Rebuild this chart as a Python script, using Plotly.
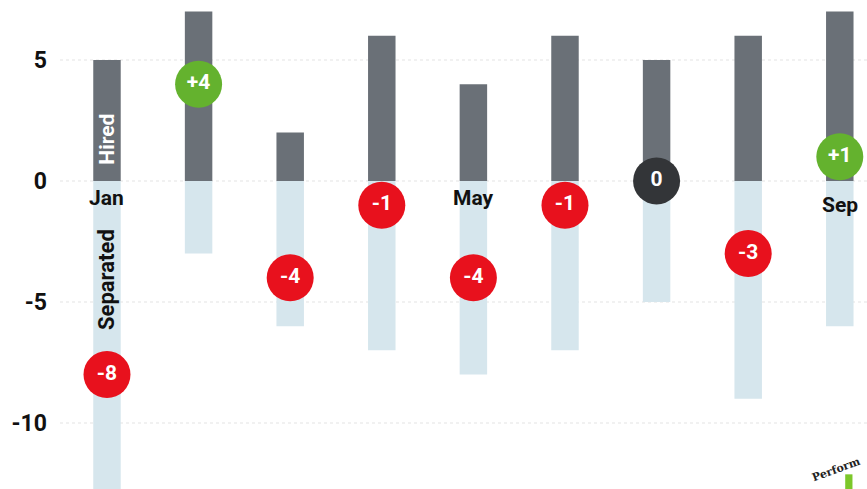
import plotly.graph_objects as go

months = ["Jan", "Feb", "Mar", "Apr", "May", "Jun", "Jul", "Aug", "Sep"]
hired = [5, 7, 2, 6, 4, 6, 5, 6, 7]
separated = [13, 3, 6, 7, 8, 7, 5, 9, 6]
shown_months = ["Jan", "May", "Sep"]
tick_vals = [5, 0, -5, -10]
tick_text = ["5", "0", "-5", "-10"]

net = [h - s for h, s in zip(hired, separated)]
net_text = [("+%d" % n) if n > 0 else str(n) for n in net]
net_color = ["#64b22e" if n > 0 else ("#e8111d" if n < 0 else "#333538") for n in net]

FONT = "Liberation Sans Narrow, Arial Narrow, Roboto, sans-serif"
x = list(range(len(months)))

fig = go.Figure()
fig.add_trace(go.Bar(x=x, y=hired, base=0, width=0.3,
                     marker=dict(color="#6a7077", line=dict(width=0)), showlegend=False))
fig.add_trace(go.Bar(x=x, y=[-s for s in separated], base=0, width=0.3,
                     marker=dict(color="#d6e6ed", line=dict(width=0)), showlegend=False))
fig.add_trace(go.Scatter(x=x, y=net, mode="markers+text", text=net_text,
                         textposition="middle center",
                         textfont=dict(family=FONT, size=21, color="white", weight="bold"),
                         marker=dict(size=47, color=net_color, line=dict(width=0)),
                         showlegend=False, cliponaxis=False))

for m in shown_months:
    i = months.index(m)
    yoff = -1.0 if 0 < net[i] < 2 else -0.7
    fig.add_annotation(x=i, y=yoff, text="<b>%s</b>" % m, showarrow=False,
                       font=dict(family=FONT, size=21, color="#111"))

fig.add_annotation(x=0, y=1.75, text="<b>Hired</b>", textangle=-90, showarrow=False,
                   font=dict(family=FONT, size=21, color="white"))
fig.add_annotation(x=0, y=-4.05, text="<b>Separated</b>", textangle=-90, showarrow=False,
                   font=dict(family=FONT, size=22, color="#111"))
fig.add_annotation(x=0.998, y=0.04, xref="paper", yref="paper", text="<b>Perform</b>",
                   textangle=-20, showarrow=False, xanchor="right", yanchor="middle",
                   font=dict(family="DejaVu Serif", size=11, color="#222"))
fig.add_shape(type="rect", xref="paper", yref="paper", x0=0.973, x1=0.982, y0=0.0, y1=0.03,
              fillcolor="#7cc72a", line=dict(width=0))

fig.update_layout(
    width=867, height=489,
    margin=dict(l=60, r=0, t=0, b=0),
    paper_bgcolor="white", plot_bgcolor="white",
    barmode="overlay",
    xaxis=dict(range=[-0.513, 8.297], showticklabels=False, showgrid=False,
               zeroline=False, showline=False),
    yaxis=dict(range=[-12.73, 7.48], tickvals=tick_vals, ticktext=tick_text,
               tickfont=dict(family=FONT, size=23, color="#111", weight="bold"),
               showgrid=True, gridcolor="#f1f1f1", griddash="dot", gridwidth=2,
               zeroline=False, showline=False, ticks="", ticklabelstandoff=12),
)

fig.write_html("out.html", config={"displayModeBar": False},
               post_script="document.body.style.margin='0';document.body.style.overflow='hidden';")
